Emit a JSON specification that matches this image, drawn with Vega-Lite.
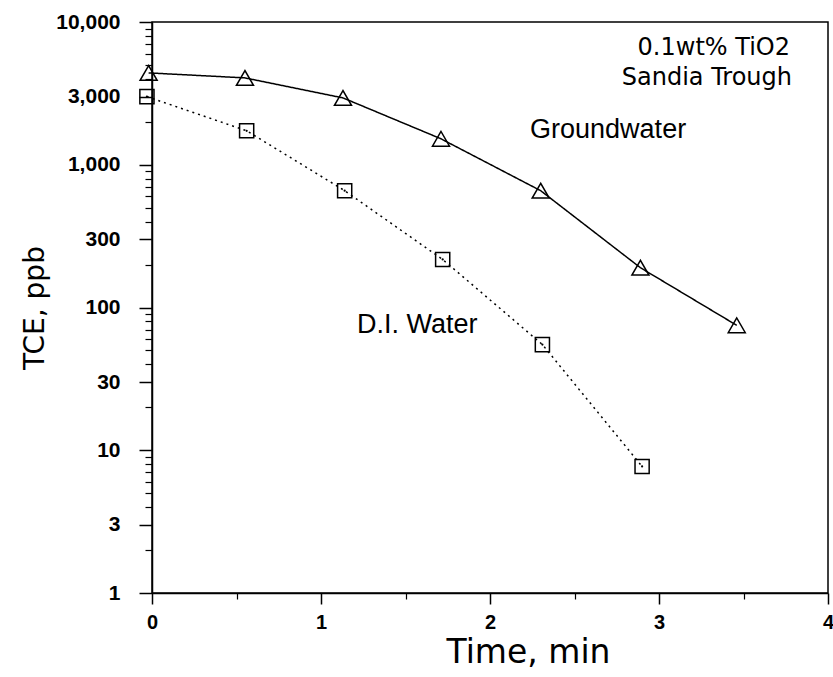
{
  "$schema": "https://vega.github.io/schema/vega-lite/v6.json",
  "width": 676,
  "height": 571,
  "autosize": "none",
  "padding": {"left": 152, "top": 22, "right": 5, "bottom": 84},
  "config": {
    "font": "Liberation Sans",
    "view": {"stroke": "black", "strokeWidth": 1.5},
    "axis": {"grid": false, "domainColor": "black", "tickColor": "black", "labelColor": "black", "titleColor": "black"}
  },
  "datasets": {
    "series": [
      {"time": -0.02, "tce": 4400, "series": "Groundwater"},
      {"time": 0.55, "tce": 4060, "series": "Groundwater"},
      {"time": 1.13, "tce": 2940, "series": "Groundwater"},
      {"time": 1.71, "tce": 1520, "series": "Groundwater"},
      {"time": 2.3, "tce": 658, "series": "Groundwater"},
      {"time": 2.89, "tce": 190, "series": "Groundwater"},
      {"time": 3.46, "tce": 75, "series": "Groundwater"},
      {"time": -0.03, "tce": 3000, "series": "D.I. Water"},
      {"time": 0.56, "tce": 1730, "series": "D.I. Water"},
      {"time": 1.14, "tce": 658, "series": "D.I. Water"},
      {"time": 1.72, "tce": 217, "series": "D.I. Water"},
      {"time": 2.31, "tce": 55, "series": "D.I. Water"},
      {"time": 2.9, "tce": 7.7, "series": "D.I. Water"}
    ],
    "notesRight": [
      {"time": 3.775, "tce": 5880, "label": "0.1wt% TiO2"},
      {"time": 3.787, "tce": 3625, "label": "Sandia Trough"}
    ],
    "notesLeft": [
      {"time": 2.237, "tce": 1550, "label": "Groundwater"},
      {"time": 1.213, "tce": 66, "label": "D.I. Water"}
    ]
  },
  "resolve": {"axis": {"x": "independent", "y": "independent"}},
  "layer": [
    {
      "data": {"name": "series"},
      "mark": {"type": "line", "color": "black", "strokeWidth": 1.5},
      "encoding": {
        "x": {
          "field": "time", "type": "quantitative",
          "scale": {"domain": [0, 4], "nice": false, "zero": false},
          "axis": {"orient": "bottom", "values": [0, 1, 2, 3, 4], "format": "d", "tickSize": 11, "tickWidth": 1.5, "domainWidth": 1.5,
                   "labelFontSize": 20, "labelFontWeight": "bold", "labelPadding": 8, "labelFlush": false,
                   "title": "Time, min", "titleFont": "DejaVu Sans", "titleFontSize": 33, "titleFontWeight": "normal", "titleX": 376, "titleY": 69, "titleBaseline": "alphabetic"}
        },
        "y": {
          "field": "tce", "type": "quantitative",
          "scale": {"type": "log", "domain": [1, 10000], "nice": false},
          "axis": {"orient": "left", "values": [1, 3, 10, 30, 100, 300, 1000, 3000, 10000], "format": ",d", "tickSize": 13, "tickWidth": 1.5, "domainWidth": 1.5,
                   "labelFontSize": 21, "labelFontWeight": "bold", "labelPadding": 19, "labelFlush": false,
                   "title": "TCE, ppb", "titleFont": "DejaVu Sans", "titleFontSize": 28, "titleFontWeight": "normal", "titleX": -109, "titleBaseline": "alphabetic"}
        },
        "detail": {"field": "series"},
        "strokeDash": {
          "field": "series", "type": "nominal",
          "scale": {"domain": ["Groundwater", "D.I. Water"], "range": [[1, 0], [2, 4]]},
          "legend": null
        }
      }
    },
    {
      "data": {"name": "series"},
      "mark": {"type": "point", "filled": false, "color": "black", "strokeWidth": 1.5, "opacity": 1},
      "encoding": {
        "x": {
          "field": "time", "type": "quantitative",
          "axis": {"orient": "bottom", "values": [0.5, 1.5, 2.5, 3.5], "tickSize": 6, "tickWidth": 1.2, "labels": false, "domain": false, "title": null}
        },
        "y": {
          "field": "tce", "type": "quantitative",
          "axis": {"orient": "left", "values": [2, 4, 5, 6, 7, 8, 9, 20, 40, 50, 60, 70, 80, 90, 200, 400, 500, 600, 700, 800, 900, 2000, 4000, 5000, 6000, 7000, 8000, 9000],
                   "tickSize": 7, "tickWidth": 1.2, "labels": false, "domain": false, "title": null}
        },
        "shape": {
          "field": "series", "type": "nominal",
          "scale": {"domain": ["Groundwater", "D.I. Water"], "range": ["triangle-up", "square"]},
          "legend": null
        },
        "size": {
          "field": "series", "type": "nominal",
          "scale": {"domain": ["Groundwater", "D.I. Water"], "range": [290, 200]},
          "legend": null
        }
      }
    },
    {
      "data": {"name": "series"},
      "transform": [{"filter": "datum.series === 'D.I. Water'"}],
      "mark": {"type": "point", "shape": "circle", "filled": true, "color": "black", "size": 5, "opacity": 1},
      "encoding": {
        "x": {"field": "time", "type": "quantitative", "axis": null},
        "y": {"field": "tce", "type": "quantitative", "axis": null}
      }
    },
    {
      "data": {"name": "notesRight"},
      "mark": {"type": "text", "align": "right", "baseline": "alphabetic", "font": "DejaVu Sans", "fontSize": 24, "color": "black"},
      "encoding": {
        "x": {"field": "time", "type": "quantitative", "axis": null},
        "y": {"field": "tce", "type": "quantitative", "axis": null},
        "text": {"field": "label"}
      }
    },
    {
      "data": {"name": "notesLeft"},
      "mark": {"type": "text", "align": "left", "baseline": "alphabetic", "fontSize": 27, "color": "black"},
      "encoding": {
        "x": {"field": "time", "type": "quantitative", "axis": null},
        "y": {"field": "tce", "type": "quantitative", "axis": null},
        "text": {"field": "label"}
      }
    }
  ]
}
